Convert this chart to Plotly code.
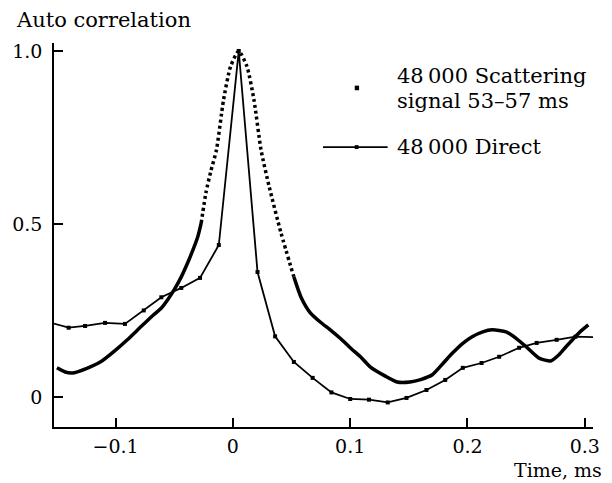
import plotly.graph_objects as go

# Scattering signal autocorrelation (48 000, 53-57 ms), split where the trace is sparse (dotted)
scat_left_x = [-0.150, -0.143, -0.137, -0.125, -0.112, -0.100, -0.090, -0.078, -0.068,
               -0.061, -0.055, -0.050, -0.044, -0.037, -0.030, -0.027]
scat_left_y = [0.084, 0.072, 0.069, 0.082, 0.103, 0.135, 0.165, 0.204, 0.236,
               0.257, 0.284, 0.310, 0.347, 0.400, 0.462, 0.503]

scat_peak_x = [-0.027, -0.023, -0.019, -0.014, -0.008, -0.002, 0.005, 0.012, 0.018,
               0.024, 0.031, 0.041, 0.052]
scat_peak_y = [0.503, 0.590, 0.650, 0.714, 0.858, 0.955, 1.000, 0.955, 0.858,
               0.714, 0.607, 0.474, 0.347]

scat_right_x = [0.052, 0.058, 0.066, 0.075, 0.083, 0.092, 0.100, 0.110, 0.117, 0.130,
                0.140, 0.151, 0.160, 0.170, 0.180, 0.187, 0.196, 0.204, 0.213, 0.221,
                0.233, 0.242, 0.250, 0.261, 0.271, 0.278, 0.284, 0.295, 0.303]
scat_right_y = [0.347, 0.289, 0.243, 0.215, 0.194, 0.168, 0.142, 0.112, 0.087, 0.060,
                0.043, 0.043, 0.050, 0.064, 0.100, 0.126, 0.155, 0.174, 0.188, 0.194,
                0.188, 0.168, 0.145, 0.112, 0.104, 0.122, 0.145, 0.185, 0.208]

# Direct signal autocorrelation (48 000)
direct_x = [-0.155, -0.140, -0.126, -0.109, -0.092, -0.076, -0.061, -0.044, -0.028, -0.012,
            0.005, 0.021, 0.036, 0.052, 0.068, 0.084, 0.100, 0.116, 0.132, 0.148,
            0.165, 0.181, 0.196, 0.212, 0.227, 0.244, 0.259, 0.276, 0.292, 0.308]
direct_y = [0.214, 0.200, 0.205, 0.214, 0.211, 0.250, 0.288, 0.315, 0.344, 0.439,
            1.000, 0.361, 0.175, 0.101, 0.055, 0.013, -0.006, -0.008, -0.016, -0.003,
            0.020, 0.049, 0.084, 0.098, 0.116, 0.142, 0.156, 0.165, 0.174, 0.173]

x_ticks = [-0.1, 0, 0.1, 0.2, 0.3]
x_tick_text = ["\u22120.1", "0", "0.1", "0.2", "0.3"]
y_ticks = [0, 0.5, 1.0]
y_tick_text = ["0", "0.5", "1.0"]

FONT = "DejaVu Serif"
FS = 21
TICK_FS = 19

fig = go.Figure()

fig.add_trace(go.Scatter(x=direct_x, y=direct_y, mode="lines+markers",
                         line=dict(color="black", width=1.8),
                         marker=dict(symbol="square", size=4, color="black"),
                         cliponaxis=False, showlegend=False))
fig.add_trace(go.Scatter(x=scat_left_x, y=scat_left_y, mode="lines",
                         line=dict(color="black", width=3.5, shape="spline", smoothing=0.6),
                         showlegend=False))
fig.add_trace(go.Scatter(x=scat_right_x, y=scat_right_y, mode="lines",
                         line=dict(color="black", width=3.5, shape="spline", smoothing=0.6),
                         showlegend=False))
fig.add_trace(go.Scatter(x=scat_peak_x, y=scat_peak_y, mode="lines",
                         line=dict(color="black", width=3.5, shape="spline", smoothing=0.6,
                                   dash="3px,3px"),
                         showlegend=False))

axis_common = dict(showline=True, linecolor="black", linewidth=1.5, ticks="inside",
                   ticklen=9, tickwidth=1.5, tickcolor="black", showgrid=False,
                   zeroline=False, mirror=False,
                   tickfont=dict(family=FONT, size=TICK_FS, color="black"))

fig.update_xaxes(range=[-0.1525, 0.307], tickvals=x_ticks, ticktext=x_tick_text,
                 ticklabelstandoff=1, **axis_common)
fig.update_yaxes(range=[-0.087, 1.023], tickvals=y_ticks, ticktext=y_tick_text,
                 ticklabelstandoff=6, **axis_common)

annotations = [
    dict(text="Auto correlation", x=-0.072, y=1.06, xanchor="left", yanchor="middle", size=FS),
    dict(text="Time, ms", x=1.018, y=-0.113, xanchor="right", yanchor="middle", size=19),
    dict(text="48\u2009000 Scattering", x=0.635, y=0.913, xanchor="left", yanchor="middle", size=FS),
    dict(text="signal 53\u201357 ms", x=0.635, y=0.850, xanchor="left", yanchor="middle", size=FS),
    dict(text="48\u2009000 Direct", x=0.635, y=0.729, xanchor="left", yanchor="middle", size=FS),
]
for a in annotations:
    size = a.pop("size")
    a.update(xref="paper", yref="paper", showarrow=False, borderpad=0,
             font=dict(family=FONT, size=size, color="black"))

shapes = [
    # legend sample: dot for scattering signal
    dict(type="rect", xref="paper", yref="paper", x0=0.558, x1=0.566, y0=0.877, y1=0.889,
         fillcolor="black", line=dict(width=0)),
    # legend sample: line with marker for direct signal
    dict(type="line", xref="paper", yref="paper", x0=0.499, x1=0.619, y0=0.729, y1=0.729,
         line=dict(color="black", width=1.8)),
    dict(type="rect", xref="paper", yref="paper", x0=0.558, x1=0.565, y0=0.724, y1=0.734,
         fillcolor="black", line=dict(width=0)),
]

fig.update_layout(width=612, height=483, margin=dict(l=52, r=17, t=43, b=56),
                  plot_bgcolor="white", paper_bgcolor="white",
                  font=dict(family=FONT, size=FS, color="black"),
                  annotations=annotations, shapes=shapes, showlegend=False)

fig.write_html("out.html")
